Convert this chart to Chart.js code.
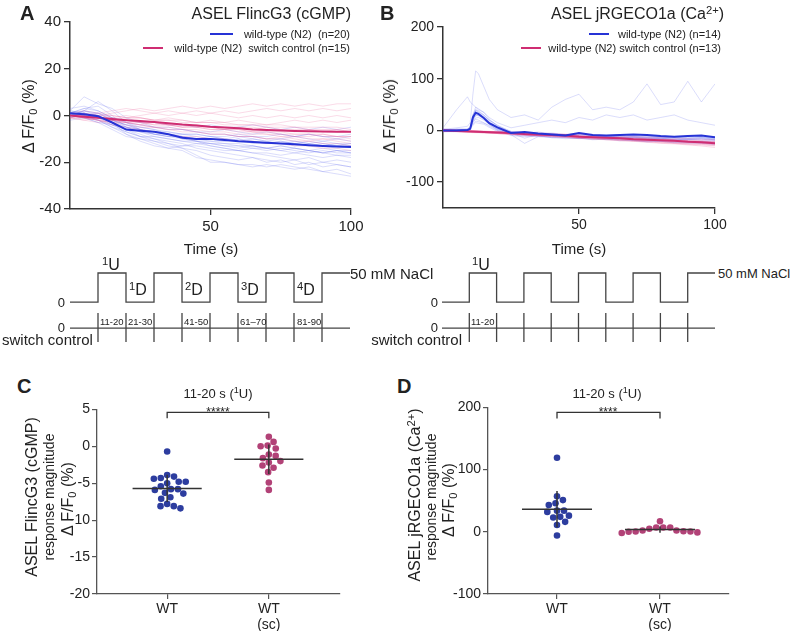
<!DOCTYPE html>
<html>
<head>
<meta charset="utf-8">
<script src="https://cdn.jsdelivr.net/npm/chart.js@4.4.1/dist/chart.umd.min.js"></script>
<style>
body { margin:0; background:#fff; }
#fig { position:relative; width:792px; height:631px; overflow:hidden; font-family:'Liberation Sans', Arial, Helvetica, sans-serif; color:#222; }
canvas { position:absolute; }
.t { position:absolute; white-space:nowrap; line-height:1; z-index:2; }
.l { transform:translate(0,-50%); }
.r { transform:translate(-100%,-50%); }
.c { transform:translate(-50%,-50%); }
.v { transform:translate(-50%,-50%) rotate(-90deg); }
.key { position:absolute; height:2px; z-index:2; }
sup { font-size:70%; vertical-align:0.45em; line-height:0; }
sub { font-size:70%; vertical-align:-0.25em; line-height:0; }
.lt { font-weight:bold; font-size:20px; }
</style>
</head>
<body>
<div id="fig">
  <canvas id="chartA" width="351" height="229" style="left:20px;top:10px"></canvas>
  <canvas id="chartB" width="342" height="223" style="left:393px;top:15px"></canvas>
  <canvas id="stimA" width="280" height="90" style="left:70px;top:255px"></canvas>
  <canvas id="stimB" width="273" height="90" style="left:442px;top:255px"></canvas>
  <canvas id="chartC" width="293" height="235" style="left:57px;top:399px"></canvas>
  <canvas id="chartD" width="291" height="237" style="left:448px;top:397px"></canvas>

  <div class="t l lt" style="left:20px;top:13px">A</div>
  <div class="t l lt" style="left:380px;top:13px">B</div>
  <div class="t l lt" style="left:17px;top:386px">C</div>
  <div class="t l lt" style="left:397px;top:386px">D</div>

  <!-- panel A / B headers -->
  <div class="t r" style="left:351px;top:14px;font-size:16px">ASEL FlincG3 (cGMP)</div>
  <div class="t r" style="left:724px;top:14px;font-size:16px">ASEL jRGECO1a (Ca<sup>2+</sup>)</div>

  <div class="key" style="left:210px;top:33px;width:23px;background:#2633d6"></div>
  <div class="t r" style="left:350px;top:34px;font-size:11px">wild-type (N2)&nbsp; (n=20)</div>
  <div class="key" style="left:143px;top:47px;width:20px;background:#cf2d72"></div>
  <div class="t r" style="left:350px;top:48px;font-size:11px">wild-type (N2)&nbsp; switch control (n=15)</div>

  <div class="key" style="left:589px;top:33px;width:20px;background:#2633d6"></div>
  <div class="t r" style="left:721px;top:34px;font-size:11px">wild-type (N2) (n=14)</div>
  <div class="key" style="left:521px;top:47px;width:20px;background:#cf2d72"></div>
  <div class="t r" style="left:721px;top:48px;font-size:11px">wild-type (N2) switch control (n=13)</div>

  <div class="t v" style="left:29px;top:116px;font-size:16px">Δ F/F<sub>0</sub> (%)</div>
  <div class="t v" style="left:390px;top:116px;font-size:16px">Δ F/F<sub>0</sub> (%)</div>
  <div class="t c" style="left:211px;top:248px;font-size:15px">Time (s)</div>
  <div class="t c" style="left:579px;top:248px;font-size:15px">Time (s)</div>

  <!-- stimulus A -->
  <div class="t r" style="left:65px;top:302px;font-size:13px">0</div>
  <div class="t r" style="left:65px;top:327px;font-size:13px">0</div>
  <div class="t l" style="left:2px;top:339px;font-size:15px">switch control</div>
  <div class="t l" style="left:102px;top:265px;font-size:16px"><sup>1</sup>U</div>
  <div class="t l" style="left:129px;top:290px;font-size:16px"><sup>1</sup>D</div>
  <div class="t l" style="left:185px;top:290px;font-size:16px"><sup>2</sup>D</div>
  <div class="t l" style="left:241px;top:290px;font-size:16px"><sup>3</sup>D</div>
  <div class="t l" style="left:297px;top:290px;font-size:16px"><sup>4</sup>D</div>
  <div class="t l" style="left:100px;top:322px;font-size:9.5px">11-20</div>
  <div class="t l" style="left:128px;top:322px;font-size:9.5px">21-30</div>
  <div class="t l" style="left:184px;top:322px;font-size:9.5px">41-50</div>
  <div class="t l" style="left:240px;top:322px;font-size:9.5px">61–70</div>
  <div class="t l" style="left:297px;top:322px;font-size:9.5px">81-90</div>
  <div class="t l" style="left:350px;top:273px;font-size:15px">50 mM NaCl</div>

  <!-- stimulus B -->
  <div class="t r" style="left:438px;top:302px;font-size:13px">0</div>
  <div class="t r" style="left:438px;top:327px;font-size:13px">0</div>
  <div class="t r" style="left:462px;top:339px;font-size:15px">switch control</div>
  <div class="t l" style="left:472px;top:265px;font-size:16px"><sup>1</sup>U</div>
  <div class="t l" style="left:471px;top:322px;font-size:9.5px">11-20</div>
  <div class="t l" style="left:718px;top:273px;font-size:13px">50 mM NaCl</div>

  <!-- panel C / D headers -->
  <div class="t c" style="left:218px;top:393px;font-size:13px">11-20 s (<sup>1</sup>U)</div>
  <div class="t c" style="left:607px;top:393px;font-size:13px">11-20 s (<sup>1</sup>U)</div>
  <div class="t" style="left:218px;top:406px;font-size:12px;transform:translate(-50%,0)">*****</div>
  <div class="t" style="left:608px;top:406px;font-size:12px;transform:translate(-50%,0)">****</div>

  <div class="t v" style="left:32px;top:497px;font-size:16px">ASEL FlincG3 (cGMP)</div>
  <div class="t v" style="left:49px;top:497px;font-size:14px">response magnitude</div>
  <div class="t v" style="left:68px;top:499px;font-size:16px">Δ F/F<sub>0</sub> (%)</div>

  <div class="t v" style="left:415px;top:495px;font-size:16px">ASEL jRGECO1a (Ca<sup>2+</sup>)</div>
  <div class="t v" style="left:431px;top:497px;font-size:14px">response magnitude</div>
  <div class="t v" style="left:449px;top:500px;font-size:16px">Δ F/F<sub>0</sub> (%)</div>
</div>

<script>
// ---- time bases (s) ----
const time5 = [0,5,10,15,20,25,30,35,40,45,50,55,60,65,70,75,80,85,90,95,100];
const timeFine = [0,5,9,10,11,12,13,15,17,20,25,30,35,40,45,50,55,60,65,70,75,80,85,90,95,100];

// ---- panel A: FlincG3, single animals (time5) ----
const blueA = [
  [1,3,4,0,-5,-7,-9,-10,-11,-12,-12,-13,-14,-13,-14,-15,-14,-15,-16,-15,-16],
  [0,2,6,2,-3,-6,-8,-9,-9,-10,-11,-11,-10,-12,-12,-11,-12,-13,-12,-13,-13],
  [2,1,0,-3,-8,-10,-12,-14,-15,-18,-19,-20,-21,-21,-22,-21,-22,-23,-24,-25,-26],
  [-1,0,-2,-5,-7,-9,-10,-12,-14,-17,-20,-20,-21,-22,-21,-22,-23,-22,-24,-23,-25],
  [1,2,1,-2,-4,-5,-6,-7,-8,-8,-9,-10,-9,-10,-11,-10,-11,-12,-11,-12,-12],
  [0,-1,-3,-6,-9,-10,-11,-12,-13,-13,-14,-15,-15,-16,-16,-17,-16,-17,-18,-17,-18],
  [3,4,2,-1,-3,-4,-5,-5,-6,-7,-7,-6,-7,-8,-7,-8,-9,-8,-9,-10,-9],
  [0,1,-1,-4,-6,-8,-10,-11,-12,-14,-15,-16,-17,-18,-19,-20,-19,-21,-20,-21,-22],
  [-2,-1,-3,-4,-7,-9,-9,-10,-11,-11,-12,-12,-13,-13,-14,-13,-14,-15,-14,-15,-15],
  [1,0,1,-2,-5,-7,-8,-8,-9,-10,-9,-10,-11,-10,-11,-12,-11,-12,-13,-12,-13],
  [0,2,0,-3,-6,-9,-11,-13,-14,-15,-17,-18,-19,-18,-20,-19,-21,-20,-22,-21,-22],
  [2,1,-1,-2,-4,-6,-7,-8,-8,-9,-10,-10,-11,-11,-12,-12,-13,-12,-13,-14,-13],
  [0,-1,-2,-4,-5,-6,-7,-7,-8,-8,-9,-9,-8,-9,-9,-8,-9,-8,-9,-9,-8],
  [1,3,2,-1,-3,-5,-6,-8,-9,-11,-12,-13,-13,-14,-14,-15,-16,-15,-16,-17,-17],
  [0,0,-2,-5,-8,-11,-13,-14,-13,-12,-13,-14,-15,-14,-15,-14,-15,-16,-15,-16,-16],
  [-1,1,0,-3,-5,-6,-8,-9,-10,-11,-11,-12,-12,-13,-14,-13,-14,-15,-16,-15,-16],
  [2,8,5,3,-1,-3,-5,-6,-6,-7,-8,-8,-9,-9,-10,-10,-9,-10,-11,-10,-11],
  [0,1,-1,-2,-4,-6,-7,-8,-10,-11,-13,-14,-15,-16,-17,-18,-19,-18,-20,-19,-20],
  [1,0,-1,-3,-6,-7,-8,-9,-9,-10,-10,-11,-10,-11,-12,-11,-12,-11,-12,-13,-12],
  [0,2,1,-1,-2,-3,-3,-4,-4,-5,-4,-5,-5,-4,-5,-6,-5,-6,-5,-6,-5]
];
const pinkA = [
  [0,-1,0,1,2,3,2,3,4,3,4,3,4,5,4,5,4,5,4,5,5],
  [-1,-2,-1,-2,-1,0,1,0,1,2,1,2,1,2,3,2,3,2,3,2,3],
  [0,-1,-2,-3,-4,-5,-5,-6,-7,-7,-8,-8,-9,-9,-10,-9,-10,-11,-10,-11,-12],
  [1,0,-1,-2,-2,-3,-4,-4,-5,-5,-6,-6,-7,-7,-8,-8,-9,-9,-8,-9,-10],
  [-1,-2,-3,-2,-3,-4,-3,-4,-5,-4,-5,-6,-5,-6,-5,-6,-7,-6,-7,-6,-7],
  [0,1,0,-1,0,-1,-2,-1,-2,-3,-2,-3,-2,-3,-4,-3,-2,-3,-2,-3,-2],
  [0,-1,-2,-4,-5,-6,-7,-8,-9,-9,-10,-10,-11,-11,-12,-12,-13,-13,-14,-14,-15],
  [-1,0,-1,-2,-3,-4,-5,-5,-6,-6,-7,-7,-8,-8,-8,-9,-9,-10,-10,-10,-11],
  [0,0,1,0,-1,-1,-2,-2,-3,-3,-3,-4,-4,-4,-5,-5,-5,-6,-6,-6,-7],
  [1,0,-1,-1,-2,-3,-3,-4,-4,-5,-5,-6,-6,-7,-7,-7,-8,-8,-8,-9,-9],
  [0,-1,-1,-2,-2,-3,-4,-4,-5,-5,-6,-6,-6,-7,-7,-8,-8,-8,-9,-9,-9],
  [-1,-1,-2,-2,-3,-3,-3,-4,-4,-4,-5,-5,-5,-5,-6,-6,-6,-6,-7,-7,-7],
  [0,1,0,0,-1,-1,-2,-2,-2,-3,-3,-3,-4,-4,-4,-4,-5,-5,-5,-5,-6],
  [0,-1,-2,-3,-3,-4,-5,-6,-6,-7,-8,-8,-9,-9,-10,-10,-11,-11,-12,-12,-13],
  [1,2,1,2,3,2,1,2,1,0,1,0,-1,0,-1,0,-1,0,-1,0,-1]
];
const blueMeanA = [1,0.5,-0.3,-3,-6,-6.5,-7,-8,-9.5,-10,-10,-10.5,-11,-11.3,-11.7,-12,-12.3,-12.7,-13,-13.3,-13.5];
const pinkMeanA = [0,-0.5,-1,-1.5,-2,-2.4,-2.8,-3.3,-3.9,-4.3,-4.8,-5.1,-5.5,-6,-6.2,-6.4,-6.6,-6.7,-6.8,-6.9,-7];

// ---- panel B: jRGECO1a, single animals ----
const blueB = [ // timeFine
  [2,5,8,15,70,115,110,85,60,40,25,30,20,45,60,70,40,45,40,55,90,50,55,95,55,90],
  [5,40,65,55,50,45,40,35,25,15,5,10,15,20,15,25,20,30,25,30,20,25,30,20,15,10],
  [0,2,3,8,30,40,38,30,20,10,-5,-8,-6,-10,-12,-10,-14,-12,-15,-13,-16,-15,-18,-17,-16,-18],
  [-3,-2,0,5,25,35,33,25,15,5,-8,-10,-12,-11,-14,-15,-13,-17,-16,-18,-20,-19,-21,-20,-22,-23],
  [2,0,1,4,20,30,28,22,12,0,-10,-12,-10,-14,-16,-15,-18,-17,-20,-19,-22,-21,-23,-25,-24,-26],
  [0,1,2,6,30,45,42,35,22,8,-2,-5,-3,-7,-8,-6,-9,-10,-8,-11,-10,-12,-13,-11,-12,-14],
  [-2,0,-1,3,15,22,20,15,8,0,-6,-8,-10,-9,-12,-11,-14,-13,-15,-14,-16,-15,-17,-18,-17,-19],
  [1,3,2,5,18,28,30,25,15,3,-5,-15,-8,-10,-9,-12,-10,-13,-12,-15,-14,-16,-15,-17,-16,-18],
  [0,-2,0,4,22,32,30,24,14,4,-4,-6,-9,-8,-11,-10,-12,-11,-13,-15,-14,-16,-18,-17,-19,-20],
  [3,1,2,5,12,18,17,14,10,2,-3,-5,-7,-6,-9,-8,-10,-12,-11,-13,-12,-14,-13,-15,-14,-16],
  [-1,0,1,3,26,38,35,28,18,6,-7,-9,-11,-13,-12,-15,-17,-16,-18,-20,-22,-21,-24,-23,-25,-27],
  [0,2,1,4,16,24,25,20,12,2,-8,-25,-12,-14,-13,-16,-15,-18,-17,-19,-18,-21,-20,-22,-21,-23],
  [1,-1,0,3,10,15,14,12,6,-2,-6,-8,-7,-9,-10,-12,-11,-10,-13,-12,-14,-13,-15,-16,-14,-17],
  [-2,-1,0,2,28,40,36,30,20,10,-2,-4,-6,-5,-8,-7,-9,-11,-10,-12,-11,-13,-12,-14,-13,-15]
];
const pinkB = [ // time5
  [0,-2,-3,-4,-5,-7,-8,-9,-10,-12,-13,-14,-15,-17,-18,-19,-21,-22,-23,-25,-27],
  [2,1,0,-2,-3,-4,-6,-7,-8,-9,-11,-12,-13,-14,-16,-17,-18,-19,-21,-22,-23],
  [-1,-3,-2,-5,-6,-8,-9,-11,-12,-13,-15,-16,-18,-19,-21,-22,-24,-25,-27,-28,-30],
  [0,0,-1,-2,-2,-3,-4,-5,-6,-7,-8,-9,-10,-11,-12,-13,-14,-15,-16,-17,-18],
  [1,-1,-3,-4,-6,-7,-9,-10,-12,-14,-15,-17,-18,-20,-21,-23,-25,-26,-28,-30,-33],
  [-2,-1,-2,-3,-4,-5,-7,-8,-9,-10,-11,-12,-14,-15,-16,-17,-18,-19,-20,-21,-22],
  [0,1,0,-1,-3,-4,-5,-6,-7,-8,-10,-11,-12,-13,-14,-15,-17,-18,-19,-20,-21],
  [1,0,-2,-3,-5,-6,-8,-9,-11,-12,-14,-15,-16,-18,-19,-21,-22,-24,-25,-26,-28],
  [0,-1,-2,-2,-3,-5,-6,-7,-8,-9,-10,-12,-13,-14,-15,-16,-17,-18,-20,-21,-22],
  [-1,-2,-4,-5,-6,-8,-9,-10,-12,-13,-14,-16,-17,-19,-20,-21,-23,-24,-26,-27,-29],
  [0,-1,-1,-3,-4,-5,-6,-8,-9,-10,-11,-13,-14,-15,-16,-18,-19,-20,-21,-23,-24],
  [2,0,-1,-2,-4,-5,-7,-8,-10,-11,-12,-14,-15,-16,-18,-19,-20,-22,-23,-24,-26],
  [0,-2,-3,-4,-5,-6,-8,-9,-10,-11,-13,-14,-15,-16,-17,-19,-20,-21,-22,-24,-25]
];
const blueMeanB = [0,0,1,3,25,34,32,24,14,6,-5,-3,-6,-8,-10,-5,-9,-10,-9,-8,-9,-11,-12,-11,-10,-13]; // timeFine
const pinkMeanB = [0,-1,-2,-3,-4,-5,-7,-8,-9,-10,-12,-13,-14,-15,-17,-18,-19,-20,-22,-23,-25]; // time5

// ---- stimulus protocol ----
const stimTimes = [0,10,20,30,40,50,60,70,80,90,100];
const stimLevels = [0,50,0,50,0,50,0,50,0,50,50];   // mM NaCl
const switchTimes = [10,20,30,40,50,60,70,80,90];

// ---- panels C / D: response magnitude 11-20 s ----
const categories = ['WT', ['WT', '(sc)']];
const cWT = [-0.7,-3.9,-4.4,-4.3,-4.1,-5.0,-4.8,-4.8,-5.4,-5.8,-5.9,-5.8,-6.3,-6.4,-7.1,-6.9,-7.8,-8.1,-8.1,-8.4];
const cSC = [1.3,0.6,0.1,0.0,-0.3,-1.1,-1.3,-1.6,-2.0,-2.2,-2.6,-2.9,-3.5,-4.9,-5.9];
const dWT = [119,57,51,46,43,34,34,32,26,24,23,16,11,-6];
const dSC = [17,7,7,7,5,2,2,1,0.5,0.5,0,-1,-2];

// ---- tick labels ----
const ticksX = [50,100];
const ticksYA = [-40,-20,0,20,40];
const ticksYB = [-100,0,100,200];
const ticksYC = [-20,-15,-10,-5,0,5];
const ticksYD = [-100,0,100,200];

const BLUE = '#2633d6', PINK = '#cf2d72';
const BLUE_F = 'rgba(90,100,235,0.28)', PINK_F = 'rgba(232,90,150,0.28)';
const DOT_B = '#2d3d9f', DOT_P = '#b24277';
const FONT = "'Liberation Sans', Arial, Helvetica, sans-serif";

Chart.defaults.font.family = FONT;
Chart.defaults.color = '#222';

function xy(times, vals) { return vals.map((v, i) => ({x: times[i], y: v})); }
function mean(a) { return a.reduce((s, v) => s + v, 0) / a.length; }
function sd(a) { const m = mean(a); return Math.sqrt(a.reduce((s, v) => s + (v - m) * (v - m), 0) / (a.length - 1)); }

function fixedTicks(list) { return s => { s.ticks = list.map(v => ({value: v})); }; }

function axis(opts) {
  return Object.assign({
    grid: {drawOnChartArea: false, tickLength: 6, color: '#333', lineWidth: 1.3},
    border: {color: '#333', width: 1.5},
    ticks: {font: {size: opts.size}, color: '#222', padding: 3, maxRotation: 0}
  }, opts.extra);
}

function traceChart(id, o) {
  const ds = [];
  ds.push({data: xy(o.tBlueMean, o.blueMean), borderColor: BLUE, borderWidth: 2, order: 0});
  ds.push({data: xy(o.tPinkMean, o.pinkMean), borderColor: PINK, borderWidth: 2, order: 0});
  o.pink.forEach(v => ds.push({data: xy(o.tPink, v), borderColor: PINK_F, borderWidth: 0.8, order: 1}));
  o.blue.forEach(v => ds.push({data: xy(o.tBlue, v), borderColor: BLUE_F, borderWidth: 0.8, order: 2}));
  return new Chart(document.getElementById(id), {
    type: 'line',
    data: {datasets: ds.map(d => Object.assign({pointRadius: 0, tension: 0, fill: false}, d))},
    options: {
      responsive: false, animation: false, events: [],
      layout: {padding: {top: 12, right: 20, left: 0, bottom: 0}},
      plugins: {legend: {display: false}, tooltip: {enabled: false}},
      scales: {
        x: axis({size: o.size, extra: {type: 'linear', min: 0, max: 100,
          afterBuildTicks: fixedTicks(ticksX), afterFit: s => { s.height = 30; }}}),
        y: axis({size: o.size, extra: {min: o.yMin, max: o.yMax,
          afterBuildTicks: fixedTicks(o.yTicks), afterFit: s => { s.width = 50; }}})
      }
    }
  });
}

traceChart('chartA', {blue: blueA, tBlue: time5, pink: pinkA, tPink: time5,
  blueMean: blueMeanA, tBlueMean: time5, pinkMean: pinkMeanA, tPinkMean: time5,
  yMin: -40, yMax: 40, yTicks: ticksYA, size: 15});
traceChart('chartB', {blue: blueB, tBlue: timeFine, pink: pinkB, tPink: time5,
  blueMean: blueMeanB, tBlueMean: timeFine, pinkMean: pinkMeanB, tPinkMean: time5,
  yMin: -150, yMax: 200, yTicks: ticksYB, size: 14});

// stimulus diagram: NaCl steps on top, switch control row below
const SW_BASE = -45, SW_TOP = -19, SW_BOT = -69;
function stimChart(id) {
  const ticks = [];
  switchTimes.forEach(t => { ticks.push({x: t, y: SW_TOP}, {x: t, y: SW_BOT}, {x: t, y: null}); });
  const line = {pointRadius: 0, borderColor: '#444', borderWidth: 1.3, tension: 0, clip: false, fill: false};
  return new Chart(document.getElementById(id), {
    type: 'line',
    data: {datasets: [
      Object.assign({data: xy(stimTimes, stimLevels), stepped: true}, line),
      Object.assign({data: [{x: 0, y: SW_BASE}, {x: 100, y: SW_BASE}]}, line),
      Object.assign({data: ticks, spanGaps: false}, line)
    ]},
    options: {
      responsive: false, animation: false, events: [],
      layout: {padding: 0},
      plugins: {legend: {display: false}, tooltip: {enabled: false}},
      scales: {
        x: {type: 'linear', display: false, min: 0, max: 100},
        y: {display: false, min: -74, max: 81}
      }
    }
  });
}
stimChart('stimA');
stimChart('stimB');

// significance bracket between the two groups
const bracket = {
  id: 'bracket',
  afterDatasetsDraw(chart, args, opts) {
    const {ctx, scales: {x, y}} = chart;
    const yy = y.getPixelForValue(opts.y);
    const x1 = x.getPixelForValue(1), x2 = x.getPixelForValue(2);
    ctx.save();
    ctx.strokeStyle = '#333'; ctx.lineWidth = 1.3;
    ctx.beginPath();
    ctx.moveTo(x1, yy + 6); ctx.lineTo(x1, yy); ctx.lineTo(x2, yy); ctx.lineTo(x2, yy + 6);
    ctx.stroke();
    ctx.restore();
  }
};

function swarm(chart, idx, center, vals, dia) {
  const xs = chart.scales.x, ys = chart.scales.y;
  const cx = xs.getPixelForValue(center);
  const order = vals.map((v, i) => i).sort((a, b) => vals[b] - vals[a]);
  const placed = [], out = new Array(vals.length);
  order.forEach(i => {
    const py = ys.getPixelForValue(vals[i]);
    const cands = [0];
    placed.forEach(p => {
      const dy = Math.abs(p.y - py);
      if (dy < dia) { const dx = Math.sqrt(dia * dia - dy * dy); cands.push(p.x + dx, p.x - dx); }
    });
    cands.sort((a, b) => Math.abs(a) - Math.abs(b));
    const ok = cands.find(c => placed.every(p => (p.x - c) ** 2 + (p.y - py) ** 2 >= dia * dia - 0.01));
    placed.push({x: ok, y: py});
    out[i] = {x: xs.getValueForPixel(cx + ok), y: vals[i]};
  });
  chart.data.datasets[idx].data = out;
}

function dotChart(id, o) {
  const mW = mean(o.wt), sW = sd(o.wt), mS = mean(o.sc), sS = sd(o.sc);
  const bar = {showLine: true, pointRadius: 0, borderColor: '#333', borderWidth: 1.5, order: 0};
  const gray = {grid: {drawOnChartArea: false, tickLength: 5, color: '#555', lineWidth: 1.2},
    border: {color: '#555', width: 1.3}};
  const chart = new Chart(document.getElementById(id), {
    type: 'scatter',
    data: {datasets: [
      {data: o.wt.map(v => ({x: 1, y: v})), backgroundColor: DOT_B, borderColor: DOT_B, borderWidth: 0, pointRadius: 3.3, order: 1},
      {data: o.sc.map(v => ({x: 2, y: v})), backgroundColor: DOT_P, borderColor: DOT_P, borderWidth: 0, pointRadius: 3.3, order: 1},
      Object.assign({data: [{x: 1 - 0.34, y: mW}, {x: 1 + 0.34, y: mW}]}, bar),
      Object.assign({data: [{x: 1, y: mW - sW}, {x: 1, y: mW + sW}]}, bar),
      Object.assign({data: [{x: 2 - 0.34, y: mS}, {x: 2 + 0.34, y: mS}]}, bar),
      Object.assign({data: [{x: 2, y: mS - sS}, {x: 2, y: mS + sS}]}, bar)
    ]},
    options: {
      responsive: false, animation: false, events: [],
      layout: {padding: {top: 10, right: 10, left: 0, bottom: 0}},
      plugins: {legend: {display: false}, tooltip: {enabled: false}, bracket: {y: o.sigY}},
      scales: {
        x: Object.assign({type: 'linear', min: o.xMin, max: o.xMax,
          afterBuildTicks: fixedTicks([1, 2]), afterFit: s => { s.height = 40; },
          ticks: {font: {size: 14, lineHeight: 1.15}, color: '#222', padding: 2, maxRotation: 0,
            callback: v => categories[v - 1]}}, gray),
        y: Object.assign({min: o.yMin, max: o.yMax,
          afterBuildTicks: fixedTicks(o.yTicks), afterFit: s => { s.width = 40; },
          ticks: {font: {size: 14}, color: '#222', padding: 2}}, gray)
      }
    },
    plugins: [bracket]
  });
  swarm(chart, 0, 1, o.wt, 7);
  swarm(chart, 1, 2, o.sc, 7);
  chart.update('none');
  return chart;
}

dotChart('chartC', {wt: cWT, sc: cSC, yMin: -20, yMax: 5, yTicks: ticksYC, xMin: 0.31, xMax: 2.70, sigY: 4.6});
dotChart('chartD', {wt: dWT, sc: dSC, yMin: -100, yMax: 200, yTicks: ticksYD, xMin: 0.33, xMax: 2.67, sigY: 192});
</script>
</body>
</html>
